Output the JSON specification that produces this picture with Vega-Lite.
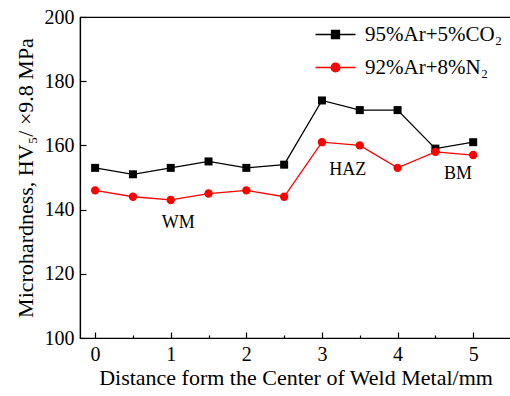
{
  "$schema": "https://vega.github.io/schema/vega-lite/v6.json",
  "width": 431,
  "height": 321,
  "autosize": "none",
  "padding": {"left": 80, "top": 17, "right": 0, "bottom": 58},
  "background": "white",
  "config": {
    "font": "Liberation Serif",
    "view": {"stroke": "black", "strokeWidth": 1.2},
    "axis": {"domainColor": "black", "tickColor": "black", "labelColor": "black", "titleColor": "black", "grid": false, "labelFont": "Liberation Serif", "titleFont": "Liberation Serif", "labelFontSize": 20, "titleFontSize": 22, "titleFontWeight": "normal", "domainWidth": 1.2, "tickWidth": 1.2}
  },
  "datasets": {
    "pts": [
      {"d": 0, "hv": 153, "gas": "95%Ar+5%CO₂"},
      {"d": 0.5, "hv": 151, "gas": "95%Ar+5%CO₂"},
      {"d": 1, "hv": 153, "gas": "95%Ar+5%CO₂"},
      {"d": 1.5, "hv": 155, "gas": "95%Ar+5%CO₂"},
      {"d": 2, "hv": 153, "gas": "95%Ar+5%CO₂"},
      {"d": 2.5, "hv": 154, "gas": "95%Ar+5%CO₂"},
      {"d": 3, "hv": 174, "gas": "95%Ar+5%CO₂"},
      {"d": 3.5, "hv": 171, "gas": "95%Ar+5%CO₂"},
      {"d": 4, "hv": 171, "gas": "95%Ar+5%CO₂"},
      {"d": 4.5, "hv": 159, "gas": "95%Ar+5%CO₂"},
      {"d": 5, "hv": 161, "gas": "95%Ar+5%CO₂"},
      {"d": 0, "hv": 146, "gas": "92%Ar+8%N₂"},
      {"d": 0.5, "hv": 144, "gas": "92%Ar+8%N₂"},
      {"d": 1, "hv": 143, "gas": "92%Ar+8%N₂"},
      {"d": 1.5, "hv": 145, "gas": "92%Ar+8%N₂"},
      {"d": 2, "hv": 146, "gas": "92%Ar+8%N₂"},
      {"d": 2.5, "hv": 144, "gas": "92%Ar+8%N₂"},
      {"d": 3, "hv": 161, "gas": "92%Ar+8%N₂"},
      {"d": 3.5, "hv": 160, "gas": "92%Ar+8%N₂"},
      {"d": 4, "hv": 153, "gas": "92%Ar+8%N₂"},
      {"d": 4.5, "hv": 158, "gas": "92%Ar+8%N₂"},
      {"d": 5, "hv": 157, "gas": "92%Ar+8%N₂"}
    ],
    "labels": [
      {"d": 1.1, "hv": 135.8, "t": "WM"},
      {"d": 3.34, "hv": 152.3, "t": "HAZ"},
      {"d": 4.8, "hv": 151, "t": "BM"}
    ]
  },
  "layer": [
    {
      "data": {"name": "pts"},
      "mark": {"type": "line", "strokeWidth": 1.3},
      "encoding": {
        "x": {"field": "d", "type": "quantitative", "scale": {"domain": [-0.2, 5.5], "nice": false},
          "axis": {"values": [0, 0.5, 1, 1.5, 2, 2.5, 3, 3.5, 4, 4.5, 5], "format": "~g", "labelExpr": "datum.value % 1 === 0 ? datum.label : ''", "tickSize": {"condition": {"test": "datum.value % 1 === 0", "value": -6}, "value": -3}, "labelPadding": 12, "title": "Distance form the Center of Weld Metal/mm", "titlePadding": 3}},
        "y": {"field": "hv", "type": "quantitative", "scale": {"domain": [100, 200], "nice": false},
          "axis": {"values": [100, 110, 120, 130, 140, 150, 160, 170, 180, 190, 200], "labelExpr": "datum.value % 20 === 0 ? datum.label : ''", "tickSize": {"condition": {"test": "datum.value % 20 === 0", "value": -6}, "value": -3}, "labelPadding": 12, "title": "Microhardness, HV₅/ ×9.8 MPa", "titlePadding": 7}},
        "color": {"field": "gas", "type": "nominal", "scale": {"domain": ["95%Ar+5%CO₂", "92%Ar+8%N₂"], "range": ["#000000", "#ff0000"]},
          "legend": {"title": null, "orient": "none", "legendX": 245, "legendY": 7, "padding": 0, "symbolSize": 64, "labelFontSize": 21, "labelFont": "Liberation Serif", "labelColor": "black", "labelOffset": 19, "rowPadding": 11,
            "symbolType": "M-5,0H5M-1,-1H1V1H-1Z",
            "encode": {"symbols": {"update": {
              "shape": {"signal": "datum.value === '95%Ar+5%CO₂' ? 'M-5,0H5M-1,-1H1V1H-1Z' : 'M-5,0H5M1.1,0A1.1,1.1 0 1,1 -1.1,0A1.1,1.1 0 1,1 1.1,0Z'"},
              "stroke": {"signal": "datum.value === '95%Ar+5%CO₂' ? '#000000' : '#ff0000'"},
              "fill": {"signal": "datum.value === '95%Ar+5%CO₂' ? '#000000' : '#ff0000'"},
              "strokeWidth": {"value": 1.3},
              "opacity": {"value": 1}
            }}}}},
        "detail": {"field": "gas"}
      }
    },
    {
      "data": {"name": "pts"},
      "transform": [{"filter": "datum.gas === '95%Ar+5%CO₂'"}],
      "mark": {"type": "point", "filled": true, "opacity": 1, "shape": "square"},
      "encoding": {
        "x": {"field": "d", "type": "quantitative"},
        "y": {"field": "hv", "type": "quantitative"},
        "color": {"field": "gas", "type": "nominal", "legend": null},
        "size": {"value": 64}
      }
    },
    {
      "data": {"name": "pts"},
      "transform": [{"filter": "datum.gas === '92%Ar+8%N₂'"}],
      "mark": {"type": "point", "filled": true, "opacity": 1, "shape": "circle"},
      "encoding": {
        "x": {"field": "d", "type": "quantitative"},
        "y": {"field": "hv", "type": "quantitative"},
        "color": {"field": "gas", "type": "nominal", "legend": null},
        "size": {"value": 70}
      }
    },
    {
      "data": {"name": "labels"},
      "mark": {"type": "text", "font": "Liberation Serif", "fontSize": 18, "color": "black"},
      "encoding": {
        "x": {"field": "d", "type": "quantitative"},
        "y": {"field": "hv", "type": "quantitative"},
        "text": {"field": "t"}
      }
    }
  ]
}
